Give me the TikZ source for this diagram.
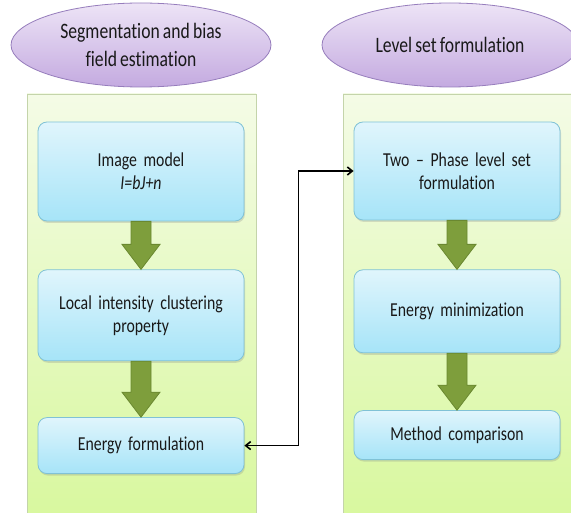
\documentclass[tikz,border=0pt]{standalone}
\usepackage{fontspec}
\setmainfont{Carlito}[FakeStretch=0.8, WordSpace=0.8, Ligatures=NoCommon]
\usetikzlibrary{arrows.meta, positioning, shapes.geometric, shadows, calc}
\definecolor{lilaT}{RGB}{237,228,246}
\definecolor{lilaB}{RGB}{196,170,224}
\definecolor{lilaD}{RGB}{150,125,188}
\definecolor{cianoT}{RGB}{224,245,252}
\definecolor{cianoB}{RGB}{166,228,248}
\definecolor{cianoD}{RGB}{128,194,214}
\definecolor{verdeT}{RGB}{244,251,230}
\definecolor{verdeB}{RGB}{216,248,158}
\definecolor{verdeD}{RGB}{196,212,170}
\definecolor{oliva}{RGB}{126,158,60}
\definecolor{olivaD}{RGB}{106,136,48}

\begin{document}
\begin{tikzpicture}[x=1pt, y=-1pt,
    titulo/.style={ellipse, draw=lilaD, thick, top color=lilaT, bottom color=lilaB,
      minimum height=84pt, align=center, text=black!90,
      font=\fontsize{22}{28}\selectfont},
    box/.style={rectangle, rounded corners=9pt, draw=cianoD, thick,
      top color=cianoT, bottom color=cianoB, minimum width=206pt, text width=190pt,
      inner sep=4pt, align=center, text=black!90, font=\fontsize{19.75}{23}\selectfont,
      drop shadow={shadow xshift=1pt, shadow yshift=-2pt, opacity=.25}},
    painel/.style={draw=verdeD, thick, top color=verdeT, bottom color=verdeB},
    fatarr/.style={fill=oliva, draw=olivaD, thick, line join=miter},
    link/.style={{Straight Barb[length=5pt, width=8pt]}-{Straight Barb[length=5pt, width=8pt]},
      line width=1.6pt}]
    \useasboundingbox (0,0) rectangle (571,513);
    \clip (0,0) rectangle (571,513);
    \fill[white] (0,0) rectangle (571,513);
    % colunas
    \draw[painel] (27,94) rectangle (256,520);
    \draw[painel] (343,94) rectangle (580,520);
    \node[titulo, minimum width=260pt](segl) at (141,45){Segmentation and bias\\field estimation};
    \node[titulo, minimum width=256pt](lvl) at (450,45){Level set formulation};
    % esquerda
    \node[box, minimum height=99pt](img) at (141,171.5){Image model\\\textit{I=bJ+n}};
    \node[box, minimum height=91pt, below=48pt of img](lic){Local intensity clustering\\property};
    \node[box, minimum height=56pt, below=56pt of lic](ef){Energy formulation};
    % direita
    \node[box, minimum height=98pt](tp) at (457,171){Two -- Phase level set\\formulation};
    \node[box, minimum height=83pt, below=49pt of tp](em){Energy minimization};
    \node[box, minimum height=49pt, below=57pt of em](mc){Method comparison};
    \foreach \a/\b in {img/lic, lic/ef, tp/em, em/mc}
      \draw[fatarr] let \p1=(\a.south), \p2=(\b.north) in
        (\x1-10pt,\y1) -- (\x1-10pt,\y2+25pt) -- (\x1-19pt,\y2+25pt) -- (\x1,\y2)
        -- (\x1+19pt,\y2+25pt) -- (\x1+10pt,\y2+25pt) -- (\x1+10pt,\y1) -- cycle;
    \draw[link](ef.east) -- ++(54,0) |- (tp.west);
  \end{tikzpicture}
\end{document}
